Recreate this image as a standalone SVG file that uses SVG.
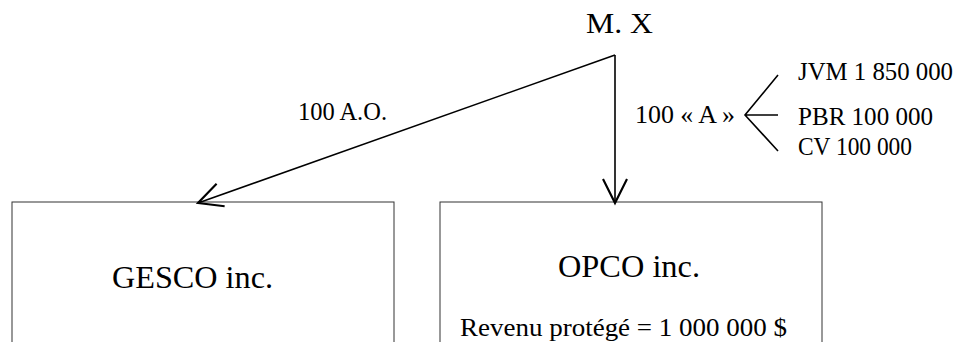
<svg xmlns="http://www.w3.org/2000/svg" width="960" height="342" viewBox="0 0 960 342">
<style>
text{font-family:"Liberation Serif","Times New Roman",serif;fill:#000}
.box{fill:#fff;stroke:#333;stroke-width:1}
.ln{fill:none;stroke:#000;stroke-width:1.6}
</style>
<defs>
<marker id="ah" markerUnits="userSpaceOnUse" markerWidth="40" markerHeight="40" refX="0" refY="0" viewBox="-25 -15 30 30" orient="auto" overflow="visible">
<path d="M-18,-9 L0,0 L-18,9" fill="none" stroke="#000" stroke-width="1.6"/>
</marker>
</defs>
<rect width="960" height="342" fill="#fff"/>
<g id="mx">
<text x="586" y="33" font-size="30" textLength="67" lengthAdjust="spacingAndGlyphs">M. X</text>
</g>
<g id="gesco">
<rect class="box" x="12" y="202" width="382" height="170"/>
<text x="112" y="288" font-size="31" textLength="161" lengthAdjust="spacingAndGlyphs">GESCO inc.</text>
</g>
<g id="opco">
<rect class="box" x="440" y="202" width="382" height="170"/>
<text x="558" y="277" font-size="31" textLength="142" lengthAdjust="spacingAndGlyphs">OPCO inc.</text>
<text x="460" y="336" font-size="26" textLength="327" lengthAdjust="spacingAndGlyphs">Revenu protégé = 1 000 000 $</text>
</g>
<g id="values">
<text x="798" y="80" font-size="26" textLength="155" lengthAdjust="spacingAndGlyphs">JVM 1 850 000</text>
<text x="798" y="125" font-size="26" textLength="135" lengthAdjust="spacingAndGlyphs">PBR 100 000</text>
<text x="798" y="155" font-size="26" textLength="114" lengthAdjust="spacingAndGlyphs">CV 100 000</text>
</g>
<g id="connectors">
<path class="ln" d="M615,55 L198,203" marker-end="url(#ah)"/>
<path class="ln" d="M615,55 L615,203" marker-end="url(#ah)"/>
<path class="ln" d="M778,75 L745,115 L778,151 M745,115 L778,115"/>
<text x="298" y="120" font-size="25" textLength="89" lengthAdjust="spacingAndGlyphs">100 A.O.</text>
<text x="635" y="123" font-size="25" textLength="100" lengthAdjust="spacingAndGlyphs">100 « A »</text>
</g>
</svg>
